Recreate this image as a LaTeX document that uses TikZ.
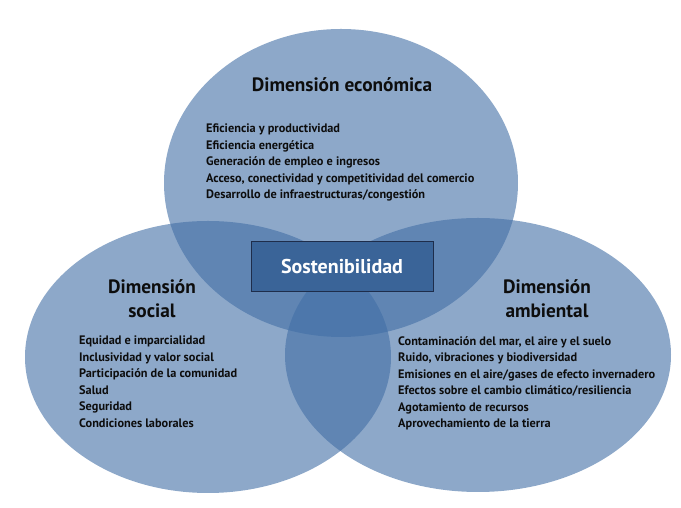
\documentclass[tikz,border=0pt]{standalone}
\usepackage{fontspec}
\setmainfont{PT Sans}
\usetikzlibrary{shapes.geometric}
\definecolor{venncolor}{RGB}{65,110,165}
\definecolor{boxcolor}{RGB}{58,100,152}
\definecolor{boxline}{RGB}{30,45,75}

\begin{document}
\begin{tikzpicture}[x=1pt, y=1pt,
            dim/.style={ellipse, fill=venncolor, fill opacity=0.6, inner sep=0pt},
            titulo/.style={font=\bfseries\fontsize{19.3}{24}\selectfont, align=center, text=black!95},
            lista/.style={font=\bfseries\fontsize{12.3}{16.5}\selectfont, align=left,
                          anchor=north west, inner sep=0pt, text=black!95},
            sost/.style={draw=boxline, fill=boxcolor, line width=1pt,
                         minimum width=182pt, minimum height=50pt,
                         text=white, font=\bfseries\fontsize{20}{22}\selectfont}
          ]
            \useasboundingbox (0,0) rectangle (681,508);
            % the three dimensions
            \node[dim, minimum width=354pt, minimum height=308pt] (eco) at (341,325) {};
            \node[dim, minimum width=366pt, minimum height=272pt] (soc) at (208,151) {};
            \node[dim, minimum width=386pt, minimum height=274pt] (amb) at (478,153) {};
            % titles
            \node[titulo] (ecoT) at (342,423) {Dimensión económica};
            \node[titulo] (socT) at (152,209) {Dimensión\\social};
            \node[titulo] (ambT) at (547,209) {Dimensión\\ambiental};
            % lists
            \node[lista] (ecoL) at (206,384) {Eficiencia y productividad\\
                Eficiencia energética\\
                Generación de empleo e ingresos\\
                Acceso, conectividad y competitividad del comercio\\
                Desarrollo de infraestructuras/congestión};
            \node[lista] (socL) at (79,172) {Equidad e imparcialidad\\
                Inclusividad y valor social\\
                Participación de la comunidad\\
                Salud\\
                Seguridad\\
                Condiciones laborales};
            \node[lista] (ambL) at (398,172) {Contaminación del mar, el aire y el suelo\\
                Ruido, vibraciones y biodiversidad\\
                Emisiones en el aire/gases de efecto invernadero\\
                Efectos sobre el cambio climático/resiliencia\\
                Agotamiento de recursos\\
                Aprovechamiento de la tierra};
            % centre
            \node[sost] (sos) at (342,241) {Sostenibilidad};
          \end{tikzpicture}
\end{document}
